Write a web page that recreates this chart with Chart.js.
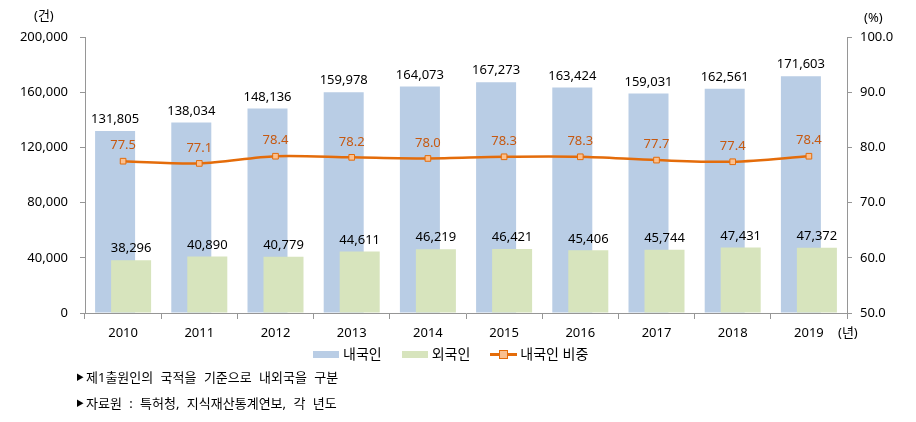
<!DOCTYPE html>
<html>
<head>
<meta charset="utf-8">
<script src="https://cdn.jsdelivr.net/npm/chart.js@4"></script>
<style>
    body { margin: 0; background: #fff; }
    #wrap { position: relative; width: 916px; height: 422px; font-family: "Noto Sans", "Noto Sans CJK KR", sans-serif; color: #000; }
    canvas { position: absolute; left: 0; top: 0; }
    .unit { position: absolute; font-size: 13px; line-height: 16px; }
    .legend { position: absolute; top: 345px; left: 313px; font-size: 14px; line-height: 18px; display: flex; align-items: center; white-space: nowrap; }
    .legend .box { display: inline-block; width: 26px; height: 7px; margin-right: 4px; }
    .legend .item { display: flex; align-items: center; margin-right: 20px; }
    .legend .lineicon { position: relative; display: inline-block; width: 27px; height: 10px; margin-right: 3px; }
    .legend .lineicon:before { content: ''; position: absolute; left: 0; right: 0; top: 4px; height: 3px; background: #E46C0A; }
    .legend .lineicon:after { content: ''; position: absolute; left: 9px; top: 1px; width: 7px; height: 7px; background: #FAC090; border: 1px solid #E46C0A; }
    .note { position: absolute; left: 76px; font-size: 13px; line-height: 18px; word-spacing: 4px; white-space: nowrap; }
    .note .tri { font-size: 8px; vertical-align: 2px; margin-right: 2px; }
</style>
</head>
<body>
<div id="wrap">
    <canvas id="chart" width="916" height="422"></canvas>
    <div class="unit" style="left:34px; top:7px;">(건)</div>
    <div class="unit" style="left:864px; top:9px;">(%)</div>
    <div class="unit" style="left:838px; top:324px;">(년)</div>
    <div class="legend">
        <span class="item"><span class="box" style="background:#B9CDE5"></span>내국인</span>
        <span class="item"><span class="box" style="background:#D7E4BD"></span>외국인</span>
        <span class="item"><span class="lineicon"></span>내국인 비중</span>
    </div>
    <div class="note" style="top:368px;"><span class="tri">▶</span>제1출원인의 국적을 기준으로 내외국을 구분</div>
    <div class="note" style="top:394px;"><span class="tri">▶</span>자료원 : 특허청, 지식재산통계연보, 각 년도</div>
</div>
<script>
// data
const years = ['2010', '2011', '2012', '2013', '2014', '2015', '2016', '2017', '2018', '2019'];
const domestic = [131805, 138034, 148136, 159978, 164073, 167273, 163424, 159031, 162561, 171603];
const foreign = [38296, 40890, 40779, 44611, 46219, 46421, 45406, 45744, 47431, 47372];
const domesticShare = [77.5, 77.1, 78.4, 78.2, 78.0, 78.3, 78.3, 77.7, 77.4, 78.4];

const leftTicks = [0, 40000, 80000, 120000, 160000, 200000];
const rightTicks = [50, 60, 70, 80, 90, 100];

const FONT = '"Noto Sans", "Noto Sans CJK KR", sans-serif';
const AXIS_COLOR = '#969696';
const DOMESTIC_INDEX = 1;

// the domestic bars sit left of the foreign ones but must be painted underneath them
const backBars = {
    id: 'backBars',
    beforeDatasetsDraw(chart) {
        chart.getDatasetMeta(DOMESTIC_INDEX).controller.draw();
    },
    beforeDatasetDraw(chart, args) {
        if (args.index === DOMESTIC_INDEX) return false;
    }
};

// draws value labels above each bar / point
const valueLabels = {
    id: 'valueLabels',
    afterDatasetsDraw(chart) {
        const ctx = chart.ctx;
        ctx.save();
        ctx.textAlign = 'center';
        ctx.textBaseline = 'bottom';
        ctx.font = '13px ' + FONT;
        chart.data.datasets.forEach(function(ds, i) {
            const meta = chart.getDatasetMeta(i);
            meta.data.forEach(function(el, j) {
                const v = ds.data[j];
                let txt, dy;
                if (ds.type === 'line') {
                    txt = v.toFixed(1);
                    ctx.fillStyle = '#C65911';
                    dy = 9;
                } else {
                    txt = v.toLocaleString('en-US');
                    ctx.fillStyle = '#000';
                    dy = 5;
                }
                ctx.fillText(txt, el.x, el.y - dy);
            });
        });
        ctx.restore();
    }
};

new Chart(document.getElementById('chart'), {
    data: {
        labels: years,
        datasets: [
            {
                type: 'line',
                label: '내국인 비중',
                data: domesticShare,
                yAxisID: 'y2',
                borderColor: '#E46C0A',
                borderWidth: 2.5,
                tension: 0.3,
                pointStyle: 'rect',
                pointRadius: 4,
                pointBackgroundColor: '#FAC090',
                pointBorderColor: '#E46C0A',
                pointBorderWidth: 1,
                order: 0
            },
            {
                type: 'bar',
                label: '내국인',
                data: domestic,
                yAxisID: 'y',
                backgroundColor: '#B9CDE5',
                categoryPercentage: 0.42,
                barPercentage: 2.5,
                order: 1
            },
            {
                type: 'bar',
                label: '외국인',
                data: foreign,
                yAxisID: 'y',
                backgroundColor: '#D7E4BD',
                categoryPercentage: 0.42,
                barPercentage: 2.5,
                order: 2
            }
        ]
    },
    options: {
        responsive: false,
        animation: false,
        layout: { padding: { top: 37, bottom: 79, left: 0, right: 0 } },
        plugins: {
            legend: { display: false },
            tooltip: { enabled: false }
        },
        scales: {
            x: {
                grid: { display: true, drawOnChartArea: false, offset: true, color: AXIS_COLOR, tickLength: 6 },
                border: { color: AXIS_COLOR },
                ticks: { color: '#000', font: { family: FONT, size: 13 }, padding: 6 },
                afterFit: function(s) { s.height = 30; }
            },
            y: {
                position: 'left',
                min: 0,
                max: 200000,
                afterBuildTicks: function(s) { s.ticks = leftTicks.map(function(v) { return { value: v }; }); },
                grid: { drawOnChartArea: false, color: AXIS_COLOR, tickLength: 5 },
                border: { color: AXIS_COLOR },
                ticks: {
                    color: '#000',
                    font: { family: FONT, size: 13 },
                    padding: 12,
                    callback: function(v) { return v.toLocaleString('en-US'); }
                },
                afterFit: function(s) { s.width = 85; }
            },
            y2: {
                position: 'right',
                min: 50,
                max: 100,
                afterBuildTicks: function(s) { s.ticks = rightTicks.map(function(v) { return { value: v }; }); },
                grid: { drawOnChartArea: false, color: AXIS_COLOR, tickLength: 5 },
                border: { color: AXIS_COLOR },
                ticks: {
                    color: '#000',
                    font: { family: FONT, size: 13 },
                    padding: 8,
                    callback: function(v) { return v.toFixed(1); }
                },
                afterFit: function(s) { s.width = 69; }
            }
        }
    },
    plugins: [backBars, valueLabels]
});
</script>
</body>
</html>
